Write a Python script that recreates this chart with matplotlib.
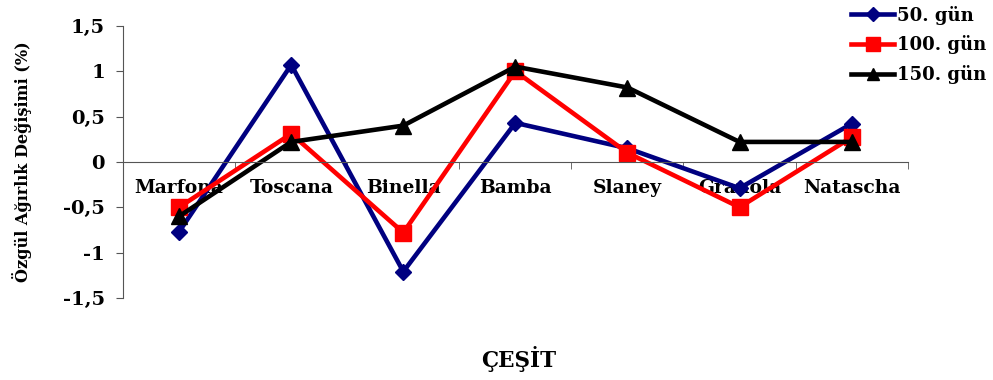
import numpy as np
import matplotlib.pyplot as plt

# Cultivars on the x axis
cesit = ["Marfona", "Toscana", "Binella", "Bamba", "Slaney", "Granola", "Natascha"]

# Specific gravity change (%) at each storage day
gun50 = [-0.77, 1.07, -1.21, 0.43, 0.15, -0.29, 0.42]
gun100 = [-0.50, 0.31, -0.78, 1.00, 0.10, -0.50, 0.27]
gun150 = [-0.60, 0.22, 0.40, 1.05, 0.82, 0.22, 0.22]

yticks = [-1.5, -1, -0.5, 0, 0.5, 1, 1.5]
ytick_labels = ["-1,5", "-1", "-0,5", "0", "0,5", "1", "1,5"]

plt.rcParams['font.family'] = ['DejaVu Serif']
plt.rcParams['font.weight'] = 'bold'

fig = plt.figure(figsize=(9.93, 3.8), dpi=100)
ax = fig.add_axes([0.124, 0.216, 0.79, 0.716])

x = np.arange(len(cesit)) + 0.5
ax.plot(x, gun50, color="#000080", lw=3.3, marker="D", ms=8.5, label="50. gün")
ax.plot(x, gun100, color="#ff0000", lw=3.3, marker="s", ms=12, label="100. gün")
ax.plot(x, gun150, color="black", lw=3.3, marker="^", ms=11, label="150. gün")

ax.set_xlim(0, len(cesit))
ax.set_ylim(-1.5, 1.5)

# x axis sits on the zero line, tick marks between categories
ax.spines['bottom'].set_position(('data', 0))
ax.spines['bottom'].set_color('#555555')
ax.spines['left'].set_color('#555555')
ax.spines['top'].set_visible(False)
ax.spines['right'].set_visible(False)

ax.set_xticks(x)
ax.set_xticklabels(cesit, fontsize=13.5, fontweight='bold')
ax.set_xticks(np.arange(len(cesit) + 1), minor=True)
ax.tick_params(axis='x', which='major', length=0, pad=12)
ax.tick_params(axis='x', which='minor', length=5, direction='out', color='#555555')

ax.set_yticks(yticks)
ax.set_yticklabels(ytick_labels, fontsize=14, fontweight='bold')
ax.tick_params(axis='y', length=5, direction='out', color='#555555', pad=8)

ax.set_ylabel("Özgül Ağırlık Değişimi (%)", fontsize=11.6, fontweight='bold', labelpad=22)
fig.text(0.522, 0.055, "ÇEŞİT", ha='center', va='center', fontsize=15.5, fontweight='bold')

fig.legend(loc='upper right', bbox_to_anchor=(1.004, 1.014), frameon=False,
           prop={'size': 13, 'weight': 'bold'}, handlelength=2.4,
           handletextpad=0.15, labelspacing=0.6, borderaxespad=0.2,
           markerscale=0.85)

fig.savefig("out.png", dpi=100)
